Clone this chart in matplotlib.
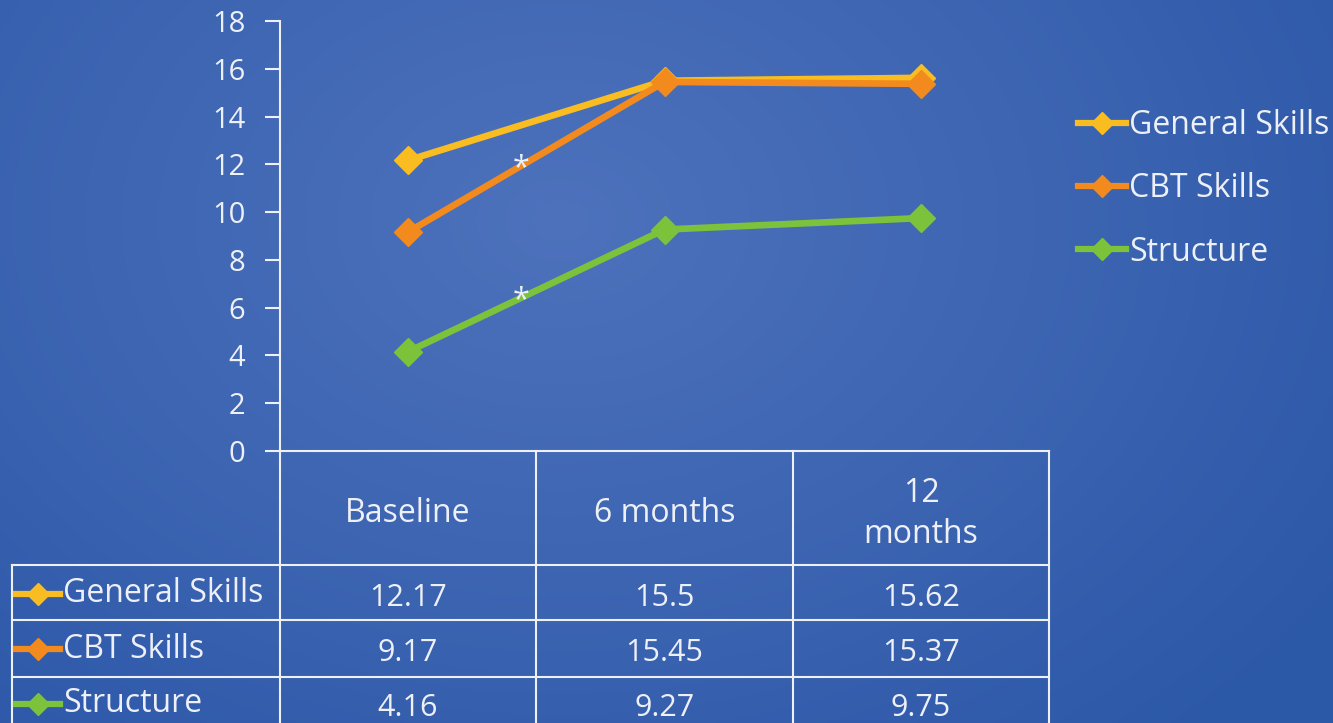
import numpy as np
import matplotlib.pyplot as plt
from matplotlib.lines import Line2D

categories = ["Baseline", "6 months", "12\nmonths"]
series = ["General Skills", "CBT Skills", "Structure"]
general = [12.17, 15.5, 15.62]
cbt = [9.17, 15.45, 15.37]
structure = [4.16, 9.27, 9.75]
colors = ["#f9bd22", "#f28a1e", "#7cc23a"]
yticks = [0, 2, 4, 6, 8, 10, 12, 14, 16, 18]
# significance marks sit between baseline and 6 months
star_x = 0.44
star_series = [1, 2]

plt.rcParams['font.family'] = ['Open Sans', 'DejaVu Sans']
txt = "#eef0f7"

W, H = 1333, 723
fig = plt.figure(figsize=(W / 100, H / 100), dpi=100)

# background: soft radial blue gradient
bg = fig.add_axes([0, 0, 1, 1])
yy, xx = np.mgrid[0:H, 0:W]
r = np.sqrt(((xx - 560) / 950.0) ** 2 + ((yy - 220) / 700.0) ** 2)
r = np.clip(r, 0, 1)
c0 = np.array([78, 114, 188]) / 255.0
c1 = np.array([44, 88, 168]) / 255.0
img = c0[None, None, :] * (1 - r[..., None]) + c1[None, None, :] * r[..., None]
bg.imshow(img, extent=[0, W, H, 0], aspect='auto')
bg.set_xlim(0, W)
bg.set_ylim(H, 0)
bg.axis('off')

# main plot area
x0, x1, ytop, ybot = 280, 1049, 21, 451
ax = fig.add_axes([x0 / W, (H - ybot) / H, (x1 - x0) / W, (ybot - ytop) / H])
ax.patch.set_alpha(0)
data = [general, cbt, structure]
xs = np.arange(len(categories))
for vals, col, name in zip(data, colors, series):
    ax.plot(xs, vals, color=col, lw=4.8, marker='D', ms=14, mec=col,
            mfc=col, label=name, solid_joinstyle='miter')
for i in star_series:
    v = data[i]
    sy = v[0] + star_x * (v[1] - v[0])
    ax.text(star_x, sy - 0.1, "*", color=txt, fontsize=22, ha='center', va='center')

ax.set_xlim(-0.5, 2.5)
ax.set_ylim(0, 18)
ax.set_yticks(yticks)
ax.set_yticklabels([str(t) for t in yticks], fontsize=21, color=txt)
ax.set_xticks([])
ax.tick_params(axis='y', direction='out', length=11, width=1.5, color=txt, pad=14)
for s in ['top', 'right']:
    ax.spines[s].set_visible(False)
for s in ['left', 'bottom']:
    ax.spines[s].set_color(txt)
    ax.spines[s].set_linewidth(1.5)

leg_handles = [Line2D([0], [0], color=c, lw=4.5, marker='D', ms=11) for c in colors]
leg = fig.legend(leg_handles, series, loc='upper left', bbox_to_anchor=(1062 / W, 1 - 93 / H),
                 frameon=False, fontsize=23, labelcolor=txt, handlelength=1.5,
                 handletextpad=0.1, labelspacing=0.95, borderpad=0)

# data table under the axis, drawn in pixel coordinates
tb = fig.add_axes([0, 0, 1, 1])
tb.set_xlim(0, W)
tb.set_ylim(H, 0)
tb.axis('off')
col_edges = [280, 536, 793, 1049]
row_edges = [451, 565, 620, 677, 740]
lw = 1.5
for yl in row_edges[1:4]:
    tb.plot([12, 1049], [yl, yl], color=txt, lw=lw)
for xl in col_edges:
    tb.plot([xl, xl], [451, 740], color=txt, lw=lw)
tb.plot([12, 12], [565, 740], color=txt, lw=lw)

for j, cat in enumerate(categories):
    cx = (col_edges[j] + col_edges[j + 1]) / 2
    tb.text(cx, 514, cat, color=txt, fontsize=23, ha='center', va='center',
            linespacing=1.35)

row_cy = [594, 649, 704]
for i, (vals, col, name) in enumerate(zip(data, colors, series)):
    cy = row_cy[i]
    tb.plot([16, 60], [cy, cy], color=col, lw=4.5)
    tb.plot([38], [cy], marker='D', ms=11, color=col)
    tb.text(63, cy, name, color=txt, fontsize=23, ha='left', va='center')
    for j, v in enumerate(vals):
        cx = (col_edges[j] + col_edges[j + 1]) / 2
        tb.text(cx, cy + 4, f"{v:g}", color=txt, fontsize=22, ha='center', va='center')

fig.savefig("out.png", dpi=100)
